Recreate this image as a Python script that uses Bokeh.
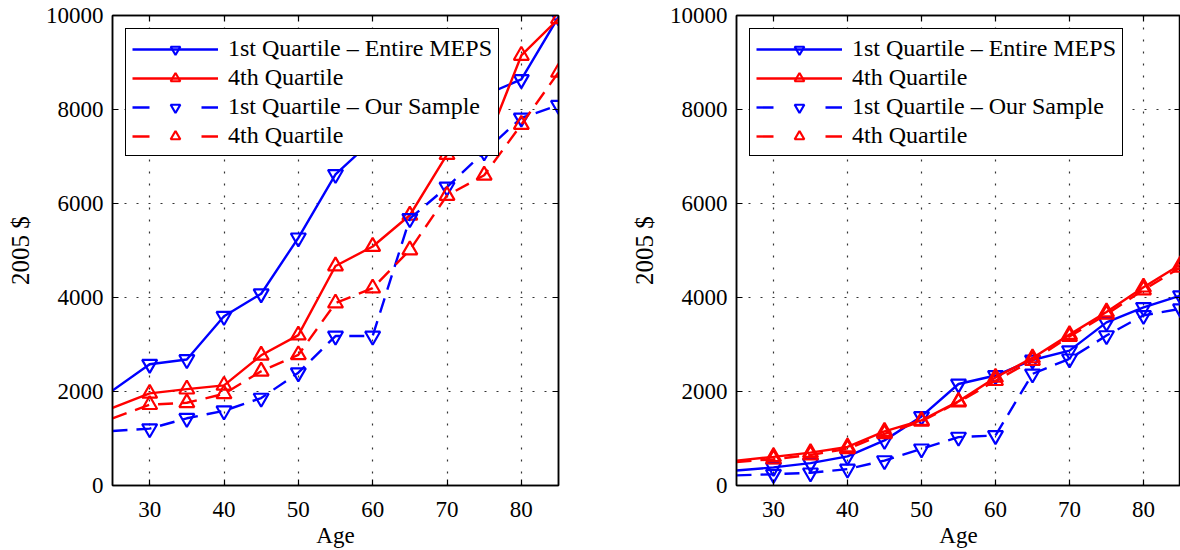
from bokeh.plotting import figure
from bokeh.models import Legend, LegendItem, LinearAxis, FixedTicker, Range1d, ColumnDataSource
from bokeh.layouts import row
from bokeh.embed import file_html
from bokeh.resources import INLINE

# ---------------- data ----------------
ages = [25, 30, 35, 40, 45, 50, 55, 60, 65, 70, 75, 80, 85]

left_q1_meps = [2020, 2580, 2680, 3600, 4080, 5270, 6620, 7350, 7700, 8000, 8300, 8640, 9970]
left_q4_meps = [1650, 1960, 2050, 2130, 2770, 3200, 4670, 5085, 5750, 7040, 7150, 9150, 9930]
left_q1_sample = [1160, 1210, 1430, 1590, 1860, 2400, 3180, 3180, 5680, 6350, 7100, 7820, 8090]
left_q4_sample = [1430, 1720, 1760, 1950, 2430, 2780, 3880, 4200, 5010, 6170, 6600, 7680, 8790]

right_q1_meps = [320, 385, 475, 620, 960, 1470, 2160, 2340, 2670, 2870, 3470, 3790, 4040]
right_q4_meps = [530, 610, 700, 820, 1150, 1385, 1790, 2300, 2715, 3210, 3690, 4220, 4700]
right_q1_sample = [215, 240, 270, 350, 530, 780, 1030, 1065, 2375, 2695, 3190, 3620, 3760]
right_q4_sample = [500, 560, 650, 780, 1100, 1365, 1775, 2230, 2660, 3170, 3640, 4160, 4640]

x_ticks = [30, 40, 50, 60, 70, 80]
y_ticks = [0, 2000, 4000, 6000, 8000, 10000]

labels = ["1st Quartile \u2013 Entire MEPS", "4th Quartile",
          "1st Quartile \u2013 Our Sample", "4th Quartile"]
y_label = "2005 $"
x_label = "Age"

BLUE = "#0000ff"
RED = "#ff0000"
FONT = "'Liberation Serif', 'Times New Roman', serif"
DASH = "15 9"
LEG_DASH = "17 52"
NAN = float("nan")


def make_panel(width, min_left, min_right, series):
    p = figure(width=width, height=550, x_range=Range1d(25, 85), y_range=Range1d(0, 10000),
               output_backend="svg", toolbar_location=None,
               min_border_left=min_left, min_border_right=min_right,
               min_border_top=15, min_border_bottom=65)
    p.outline_line_color = "black"
    p.outline_line_width = 1.5
    p.outline_line_alpha = 1.0
    p.background_fill_color = "white"
    p.border_fill_color = "white"

    xa = p.xaxis[0]
    ya = p.yaxis[0]
    xa.ticker = FixedTicker(ticks=x_ticks)
    ya.ticker = FixedTicker(ticks=y_ticks)
    xa.axis_label = x_label
    ya.axis_label = y_label
    for ax in (xa, ya):
        ax.major_label_text_font = FONT
        ax.major_label_text_font_size = "23px"
        ax.major_label_text_color = "black"
        ax.axis_label_text_font = FONT
        ax.axis_label_text_font_size = "23px"
        ax.axis_label_text_font_style = "normal"
        ax.axis_label_text_color = "black"
        ax.major_tick_in = 6
        ax.major_tick_out = 0
        ax.minor_tick_in = 0
        ax.minor_tick_out = 0
        ax.axis_line_width = 1.5
        ax.major_tick_line_width = 1.2
    xa.major_label_standoff = 16
    xa.axis_label_standoff = 3
    ya.major_label_standoff = 9
    ya.axis_label_standoff = 9
    ya.axis_label_text_font_size = "25px"
    ya.major_label_orientation = "horizontal"

    # tick marks on the top and right edges (no labels drawn)
    top = LinearAxis(ticker=FixedTicker(ticks=x_ticks), major_label_text_font_size="1px",
                     major_label_text_color=None, major_label_standoff=0,
                     major_tick_in=6, major_tick_out=0,
                     minor_tick_in=0, minor_tick_out=0, axis_line_width=1.5, major_tick_line_width=1.2)
    right = LinearAxis(ticker=FixedTicker(ticks=y_ticks), major_label_text_font_size="1px",
                       major_label_text_color=None, major_label_standoff=0,
                       major_tick_in=6, major_tick_out=0,
                       minor_tick_in=0, minor_tick_out=0, axis_line_width=1.5, major_tick_line_width=1.2)
    p.add_layout(top, "above")
    p.add_layout(right, "right")

    p.xgrid.ticker = FixedTicker(ticks=x_ticks)
    p.ygrid.ticker = FixedTicker(ticks=y_ticks)
    for g in (p.xgrid, p.ygrid):
        g.grid_line_color = "black"
        g.grid_line_dash = "2 10"
        g.grid_line_width = 1.2
        g.grid_line_alpha = 0.8

    styles = [(BLUE, "inverted_triangle", "solid"), (RED, "triangle", "solid"),
              (BLUE, "inverted_triangle", DASH), (RED, "triangle", DASH)]
    items = []
    for vals, (col, mk, dash), lab in zip(series, styles, labels):
        src = ColumnDataSource(data=dict(x=ages, y=vals))
        msrc = ColumnDataSource(data=dict(x=ages[1:], y=vals[1:]))
        ln = p.line("x", "y", source=src, line_color=col, line_width=2.4, line_dash=dash)
        sc = p.scatter("x", "y", source=msrc, marker=mk, size=15, fill_color=None,
                       line_color=col, line_width=2.2)
        if dash == "solid":
            items.append(LegendItem(label=lab, renderers=[ln, sc]))
        else:
            # legend-only line sample (not drawn in the plot: single NaN point)
            dsrc = ColumnDataSource(data=dict(x=[NAN], y=[NAN]))
            dummy = p.line("x", "y", source=dsrc, line_color=col, line_width=2.4, line_dash=LEG_DASH)
            items.append(LegendItem(label=lab, renderers=[dummy, sc]))

    legend = Legend(items=items, location="top_left", margin=13, padding=6, spacing=2,
                    glyph_width=86, glyph_height=24, label_height=24, label_standoff=10,
                    label_text_font=FONT, label_text_font_size="24px", label_text_color="black",
                    border_line_color="black", border_line_width=1.5, border_line_alpha=1.0,
                    background_fill_color="white", background_fill_alpha=1.0)
    p.add_layout(legend)
    return p


p1 = make_panel(600, 112, 42, [left_q1_meps, left_q4_meps, left_q1_sample, left_q4_sample])
p2 = make_panel(580, 136, 0, [right_q1_meps, right_q4_meps, right_q1_sample, right_q4_sample])

layout = row(p1, p2)
open("out.html", "w").write(file_html(layout, INLINE))
